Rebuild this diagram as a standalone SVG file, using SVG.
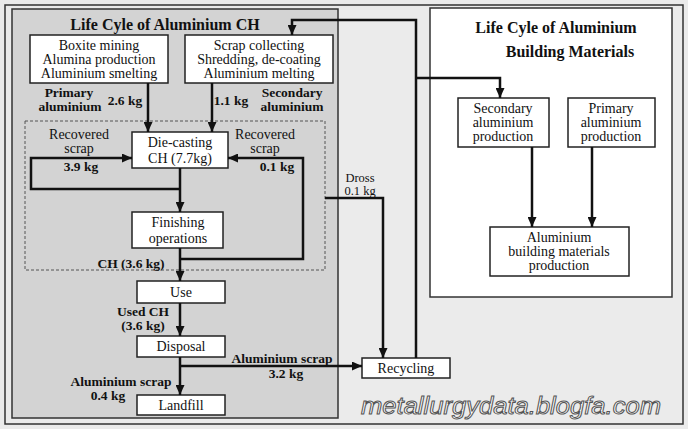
<svg xmlns="http://www.w3.org/2000/svg" width="688" height="429" viewBox="0 0 688 429">
<defs>
<marker id="ah" markerUnits="userSpaceOnUse" markerWidth="10" markerHeight="9" refX="10" refY="4.5" orient="auto">
<path d="M0,0 L10,4.5 L0,9 z" fill="#111"/>
</marker>
<style>
.frame{fill:none;stroke:#333;stroke-width:1.5}
.box{fill:#fff;stroke:#222;stroke-width:1.5}
.t{font-family:"Liberation Serif","Times New Roman",serif;font-size:14px;fill:#111;text-anchor:middle}
.b{font-family:"Liberation Serif","Times New Roman",serif;font-size:13.5px;font-weight:bold;fill:#111;text-anchor:middle}
.h{font-family:"Liberation Serif","Times New Roman",serif;font-size:16px;font-weight:bold;fill:#111;text-anchor:middle}
.c{fill:none;stroke:#111;stroke-width:2.5}
.wm{font-family:"Liberation Sans",Arial,sans-serif;font-size:24px;font-style:italic;fill:#fff;stroke:#555;stroke-width:1;text-anchor:middle}
</style>
</defs>
<rect width="688" height="429" fill="#ebebeb"/>
<rect x="5" y="5" width="678" height="419" class="frame" stroke-width="2"/>
<g id="panel-ch">
<rect x="12" y="9" width="326" height="409" fill="#d3d3d3" stroke="#333" stroke-width="1.5"/>
<text x="165" y="30" class="h">Life Cyle of Aluminium CH</text>
<rect x="25" y="121" width="300" height="149" fill="none" stroke="#555" stroke-width="1" stroke-dasharray="3,2"/>
</g>
<g id="panel-bm">
<rect x="430" y="8" width="242" height="289" fill="#fff" stroke="#333" stroke-width="1.5"/>
<text x="556" y="33" class="h">Life Cyle of Aluminium</text>
<text x="570" y="57" class="h">Building Materials</text>
</g>
<g id="primary-prod">
<rect x="30" y="35" width="138" height="48" class="box"/>
<text x="99" y="50" class="t">Boxite mining</text>
<text x="99" y="64" class="t">Alumina production</text>
<text x="99" y="78" class="t">Aluminium smelting</text>
</g>
<g id="scrap-collect">
<rect x="185" y="35" width="148" height="48" class="box"/>
<text x="259" y="50" class="t">Scrap collecting</text>
<text x="259" y="64" class="t">Shredding, de-coating</text>
<text x="259" y="78" class="t">Aluminium melting</text>
</g>
<g id="die-casting">
<rect x="132" y="132" width="96" height="36" class="box"/>
<text x="180" y="147" class="t">Die-casting</text>
<text x="180" y="163" class="t">CH (7.7kg)</text>
</g>
<g id="finishing">
<rect x="132" y="212" width="91" height="36" class="box"/>
<text x="178" y="227" class="t">Finishing</text>
<text x="178" y="243" class="t">operations</text>
</g>
<g id="use">
<rect x="137" y="281" width="88" height="22" class="box"/>
<text x="181" y="297" class="t">Use</text>
</g>
<g id="disposal">
<rect x="137" y="336" width="88" height="21" class="box"/>
<text x="181" y="351" class="t">Disposal</text>
</g>
<g id="landfill">
<rect x="137" y="395" width="88" height="20" class="box"/>
<text x="181" y="410" class="t">Landfill</text>
</g>
<g id="recycling">
<rect x="362" y="358" width="88" height="20" class="box"/>
<text x="406" y="373" class="t">Recycling</text>
</g>
<g id="secondary-prod">
<rect x="458" y="98" width="91" height="49" class="box"/>
<text x="503" y="113" class="t">Secondary</text>
<text x="503" y="127" class="t">aluminium</text>
<text x="503" y="141" class="t">production</text>
</g>
<g id="primary-bm">
<rect x="568" y="98" width="87" height="49" class="box"/>
<text x="611" y="113" class="t">Primary</text>
<text x="611" y="127" class="t">aluminium</text>
<text x="611" y="141" class="t">production</text>
</g>
<g id="bm-prod">
<rect x="490" y="227" width="139" height="49" class="box"/>
<text x="559" y="242" class="t">Aluminium</text>
<text x="559" y="256" class="t">building materials</text>
<text x="559" y="270" class="t">production</text>
</g>
<g id="connectors">
<path d="M148,83 V132" class="c" marker-end="url(#ah)"/>
<path d="M212,83 V132" class="c" marker-end="url(#ah)"/>
<path d="M180,168 V212" class="c" marker-end="url(#ah)"/>
<path d="M180,189 H31 V158 H132" class="c" marker-end="url(#ah)"/>
<path d="M180,248 V281" class="c" marker-end="url(#ah)"/>
<path d="M180,259 H303 V158 H228" class="c" marker-end="url(#ah)"/>
<path d="M180,303 V336" class="c" marker-end="url(#ah)"/>
<path d="M180,357 V395" class="c" marker-end="url(#ah)"/>
<path d="M180,366 H362" class="c" marker-end="url(#ah)"/>
<path d="M325,198 H383 V358" class="c" marker-end="url(#ah)"/>
<path d="M416,358 V20 H292 V35" class="c" marker-end="url(#ah)"/>
<path d="M416,78 H500 V98" class="c" marker-end="url(#ah)"/>
<path d="M532,147 V227" class="c" marker-end="url(#ah)"/>
<path d="M592,147 V227" class="c" marker-end="url(#ah)"/>
</g>
<g id="labels">
<text x="69" y="97" class="b">Primary</text>
<text x="70" y="111" class="b">aluminium</text>
<text x="125" y="105" class="b">2.6 kg</text>
<text x="231" y="105" class="b">1.1 kg</text>
<text x="292" y="97" class="b">Secondary</text>
<text x="292" y="111" class="b">aluminium</text>
<text x="79" y="139" class="t">Recovered</text>
<text x="79" y="153" class="t">scrap</text>
<text x="81" y="171" class="b">3.9 kg</text>
<text x="265" y="139" class="t">Recovered</text>
<text x="265" y="153" class="t">scrap</text>
<text x="277" y="171" class="b">0.1 kg</text>
<text x="131" y="268" class="b">CH (3.6 kg)</text>
<text x="143" y="316" class="b">Used CH</text>
<text x="143" y="330" class="b">(3.6 kg)</text>
<text x="282" y="363" class="b">Aluminium scrap</text>
<text x="286" y="378" class="b">3.2 kg</text>
<text x="121" y="386" class="b">Aluminium scrap</text>
<text x="108" y="400" class="b">0.4 kg</text>
<text x="360" y="182" class="t" style="font-size:12.5px">Dross</text>
<text x="360" y="195" class="t" style="font-size:12.5px">0.1 kg</text>
</g>
<text x="511" y="414" class="wm" textLength="300" lengthAdjust="spacingAndGlyphs">metallurgydata.blogfa.com</text>
</svg>
